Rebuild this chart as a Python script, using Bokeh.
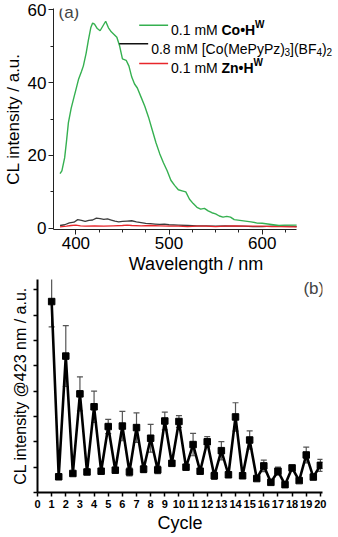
from bokeh.plotting import figure
from bokeh.models import (Range1d, SingleIntervalTicker, FixedTicker, Label,
                          Whisker, ColumnDataSource, TeeHead, CustomJSTickFormatter)
from bokeh.embed import file_html
from bokeh.resources import INLINE

FONT = "Liberation Sans"

# ---------------- Panel (a) data ----------------
wl_co = [383, 385, 388, 390, 392, 395, 398, 400, 403, 406, 408, 411, 413.5, 416, 418,
         420, 423, 426, 429, 432, 435, 438, 441, 444, 447, 450, 454, 457, 460, 463,
         466, 470, 474, 478, 482, 486, 490, 494, 498, 502, 506, 510, 514, 518, 522,
         526, 530, 534, 538, 542, 546, 550, 554, 558, 562, 566, 570, 576, 582, 588,
         594, 600, 606, 612, 618, 624, 630, 637]
int_co = [15.0, 15.8, 19.4, 24.0, 29.0, 33.0, 36.0, 38.0, 41.0, 43.0, 44.5, 48.0, 51.7, 55.0, 56.3,
          56.0, 54.8, 54.2, 55.5, 56.8, 55.0, 53.9, 53.2, 52.4, 50.0, 46.5, 46.1, 44.5, 41.5, 39.6,
          38.5, 36.0, 33.5, 30.5, 27.0, 23.5, 20.5, 18.0, 15.8, 13.2, 11.8, 10.6, 10.3, 10.0, 8.0,
          6.8, 5.8, 5.3, 5.5, 4.8, 4.3, 4.0, 3.4, 3.1, 3.3, 3.1, 2.4, 2.2, 2.0, 1.8,
          1.5, 1.4, 1.2, 1.0, 0.8, 0.9, 0.9, 0.9]

wl_comp = [383, 388, 393, 398, 402, 406, 410, 414, 418, 422, 426, 430, 434, 438, 442,
           446, 450, 455, 460, 465, 470, 475, 480, 485, 490, 495, 500, 510, 520, 530,
           540, 550, 560, 570, 580, 590, 600, 610, 620, 630, 637]
int_comp = [0.8, 1.0, 1.5, 1.7, 2.4, 2.2, 1.9, 2.2, 2.3, 2.8, 2.7, 2.5, 2.6, 2.3, 2.0,
            1.8, 1.9, 2.0, 2.1, 1.8, 1.6, 1.4, 1.3, 1.2, 1.1, 1.2, 1.0, 0.9, 0.8, 0.7,
            0.7, 0.6, 0.7, 0.6, 0.6, 0.5, 0.5, 0.6, 0.7, 0.6, 0.5]

wl_zn = [383, 390, 395, 400, 405, 410, 420, 430, 440, 450, 455, 460, 470, 480, 490,
         500, 510, 520, 530, 540, 550, 560, 570, 580, 590, 600, 610, 620, 630, 637]
int_zn = [0.4, 0.6, 0.8, 0.9, 0.7, 0.6, 0.7, 0.6, 0.7, 0.8, 0.9, 0.8, 0.7, 0.8, 0.7,
          0.6, 0.6, 0.5, 0.6, 0.6, 0.5, 0.6, 0.7, 0.6, 0.6, 0.6, 0.5, 0.5, 0.4, 0.4]

# ---------------- Panel (b) data ----------------
cycles = [1, 2, 3, 4, 5, 6, 7, 8, 9, 10, 11, 12, 13, 14, 15, 16, 17, 18, 19, 20]
peak = [7.53, 5.38, 3.89, 3.38, 2.60, 2.62, 2.56, 2.14, 2.82, 2.80,
        1.89, 2.00, 1.65, 2.98, 2.07, 1.05, 0.84, 0.97, 1.48, 1.07]
peak_err = [1.0, 1.2, 0.67, 0.62, 0.28, 0.58, 0.58, 0.55, 0.35, 0.23,
            0.44, 0.20, 0.36, 0.56, 0.36, 0.23, 0.16, 0.08, 0.31, 0.24]
trough_x = [1.5, 2.5, 3.5, 4.5, 5.5, 6.5, 7.5, 8.5, 9.5, 10.5,
            11.5, 12.5, 13.5, 14.5, 15.5, 16.5, 17.5, 18.5, 19.5]
trough = [0.62, 0.75, 0.81, 0.84, 0.88, 0.81, 0.92, 0.89, 1.15, 1.00,
          0.84, 0.66, 0.70, 0.66, 0.55, 0.40, 0.31, 0.47, 0.61]
trough_err = [0.03, 0.03, 0.03, 0.03, 0.03, 0.16, 0.14, 0.15, 0.03, 0.03,
              0.03, 0.14, 0.03, 0.03, 0.03, 0.03, 0.03, 0.03, 0.03]
cycle_ticks = [0, 1, 2, 3, 4, 5, 6, 7, 8, 9, 10, 11, 12, 13, 14, 15, 16, 17, 18, 19, 20]

# ---------------- helpers for text layout ----------------
REG = {'0': 556, '1': 556, '2': 556, '3': 556, '4': 556, '8': 556, '.': 278, ' ': 278,
       'm': 833, 'M': 833, '[': 278, ']': 278, '(': 333, ')': 333, 'C': 722,
       'o': 556, 'e': 556, 'P': 667, 'y': 500, 'z': 500, 'B': 667, 'F': 611}
BOLD = {'C': 722, 'o': 611, '\u2022': 350, 'H': 722, 'Z': 611, 'n': 611, 'W': 944}


def text_w(s, size, bold=False):
    tbl = BOLD if bold else REG
    return sum(tbl.get(ch, 556) for ch in s) / 1000.0 * size


# ---------------- Panel (a) figure ----------------
# axis drawn from 376 to 637 nm (pixels 52..296); frame continues to the right
# edge so that the legend text is not clipped.
XA0, XA_END, YA0, YA1 = 376, 637, -0.3, 60.3
A_LEFT, A_AXEND, A_RIGHT, A_TOP, A_BOT = 52, 296, 338, 8, 233
NM_PER_PX = (XA_END - XA0) / (A_AXEND - A_LEFT)
XA1 = XA0 + (A_RIGHT - A_LEFT) * NM_PER_PX


def ax(px):
    return XA0 + (px - A_LEFT) * NM_PER_PX


def ay(py):
    return YA1 - (py - A_TOP) * (YA1 - YA0) / (A_BOT - A_TOP)


pa = figure(width=338, height=276, output_backend="svg", toolbar_location=None,
            x_range=Range1d(XA0, XA1), y_range=Range1d(YA0, YA1),
            min_border_left=A_LEFT, min_border_right=0,
            min_border_top=A_TOP, min_border_bottom=0)
pa.outline_line_color = None
pa.xgrid.visible = False
pa.ygrid.visible = False

pa.line(wl_comp, int_comp, line_color="#3c3c3c", line_width=1.3)
pa.line(wl_zn, int_zn, line_color="#e8262b", line_width=1.3)
pa.line(wl_co, int_co, line_color="#35b050", line_width=1.4)

pa.xaxis.ticker = SingleIntervalTicker(interval=100, num_minor_ticks=4)
pa.xaxis.bounds = (XA0, XA_END)
pa.yaxis.ticker = SingleIntervalTicker(interval=20, num_minor_ticks=2)
for axis in (pa.xaxis[0], pa.yaxis[0]):
    axis.axis_line_color = "#222222"
    axis.major_tick_line_color = "#222222"
    axis.minor_tick_line_color = "#222222"
    axis.major_tick_in = 0
    axis.major_tick_out = 5
    axis.minor_tick_in = 0
    axis.minor_tick_out = 3
    axis.major_label_text_font = FONT
    axis.major_label_text_font_size = "17px"
    axis.major_label_text_color = "black"
    axis.axis_label_text_font = FONT
    axis.axis_label_text_font_style = "normal"
    axis.axis_label_text_color = "black"
    axis.major_label_standoff = 2
    axis.axis_label_standoff = 2
pa.xaxis.axis_label = "Wavelength / nm"
pa.xaxis.axis_label_text_font_size = "18px"
pa.yaxis.axis_label = "CL intensity / a.u."
pa.yaxis.axis_label_text_font_size = "17px"

pa.add_layout(Label(x=ax(57), y=ay(12), text="(a)", text_font=FONT,
                    text_font_size="17px", text_baseline="middle", text_align="left"))

# legend
LEG_FS = 14
legend_rows = [
    (138, 167, 25, 170, "#35b050",
     [("0.1 mM ", False, 'n'), ("Co\u2022H", True, 'n'), ("W", True, 'sup')]),
    (118, 147, 44, 150, "#111111",
     [("0.8 mM [Co(MePyPz)", False, 'n'), ("3", False, 'sub'), ("](BF", False, 'n'),
      ("4", False, 'sub'), (")", False, 'n'), ("2", False, 'sub')]),
    (138, 167, 64, 170, "#e8262b",
     [("0.1 mM ", False, 'n'), ("Zn\u2022H", True, 'n'), ("W", True, 'sup')]),
]
for (lx0, lx1, ly, tx, col, pieces) in legend_rows:
    pa.segment(x0=[ax(lx0)], y0=[ay(ly)], x1=[ax(lx1)], y1=[ay(ly)],
               line_color=col, line_width=1.5)
    cur = tx
    base = ly + 5
    for (s, bold, kind) in pieces:
        fs = LEG_FS if kind == 'n' else 10
        by = base if kind == 'n' else (base + 3 if kind == 'sub' else base - 6)
        pa.add_layout(Label(x=ax(cur), y=ay(by), text=s, text_font=FONT,
                            text_font_size=f"{fs}px",
                            text_font_style="bold" if bold else "normal",
                            text_baseline="alphabetic", text_align="left",
                            text_color="black"))
        cur += text_w(s, fs, bold)

# ---------------- Panel (b) figure ----------------
XB0, XB1, YB0, YB1 = 0, 20.15, 0, 8.4
pb = figure(width=338, height=259, output_backend="svg", toolbar_location=None,
            x_range=Range1d(XB0, XB1), y_range=Range1d(YB0, YB1),
            min_border_left=37, min_border_right=16, min_border_top=3,
            min_border_bottom=0)
pb.outline_line_color = None
pb.xgrid.visible = False
pb.ygrid.visible = False

# zigzag series
zx, zy = [], []
for i, c in enumerate(cycles):
    zx.append(c)
    zy.append(peak[i])
    if i < len(trough_x):
        zx.append(trough_x[i])
        zy.append(trough[i])

err_x = list(cycles) + list(trough_x)
err_v = list(peak) + list(trough)
err_e = list(peak_err) + list(trough_err)
src = ColumnDataSource(dict(x=err_x,
                            upper=[v + e for v, e in zip(err_v, err_e)],
                            lower=[v - e for v, e in zip(err_v, err_e)]))
wh = Whisker(base="x", upper="upper", lower="lower", source=src,
             line_color="#555555", line_width=1.2, level="underlay",
             upper_head=TeeHead(size=6, line_color="#555555", line_width=1.2),
             lower_head=TeeHead(size=6, line_color="#555555", line_width=1.2))
pb.add_layout(wh)

pb.line(zx, zy, line_color="black", line_width=2.6)
pb.scatter(zx, zy, marker="square", size=6.5, fill_color="black", line_color="black")

pb.xaxis.ticker = FixedTicker(ticks=cycle_ticks, minor_ticks=[])
pb.yaxis.ticker = FixedTicker(ticks=[0, 1, 2, 3, 4, 5, 6, 7, 8], minor_ticks=[])
for axis in (pb.xaxis[0], pb.yaxis[0]):
    axis.axis_line_color = "black"
    axis.axis_line_width = 2
    axis.major_tick_line_color = "black"
    axis.major_tick_line_width = 1.5
    axis.major_tick_in = 0
    axis.major_tick_out = 4
    axis.axis_label_text_font = FONT
    axis.axis_label_text_font_style = "normal"
    axis.axis_label_text_color = "black"
pb.xaxis.major_label_text_font = FONT
pb.xaxis.major_label_text_font_size = "11px"
pb.xaxis.major_label_text_font_style = "bold"
pb.xaxis.major_label_text_color = "black"
pb.xaxis.major_label_standoff = 3
pb.xaxis.axis_label = "Cycle"
pb.xaxis.axis_label_text_font_size = "18px"
pb.xaxis.axis_label_standoff = 2
# y axis of panel (b) carries ticks but no numbers
pb.yaxis.formatter = CustomJSTickFormatter(code="return ''")
pb.yaxis.major_label_text_font_size = "1px"
pb.yaxis.major_label_standoff = 0
pb.yaxis.axis_label = "CL intensity @423 nm / a.u."
pb.yaxis.axis_label_text_font_size = "16px"
pb.yaxis.axis_label_standoff = 5

pb.add_layout(Label(x=18.8, y=8.05, text="(b)", text_font=FONT,
                    text_font_size="17px", text_baseline="middle", text_align="left"))

# two independent roots stacked vertically
open("out.html", "w").write(file_html([pa, pb], INLINE))
